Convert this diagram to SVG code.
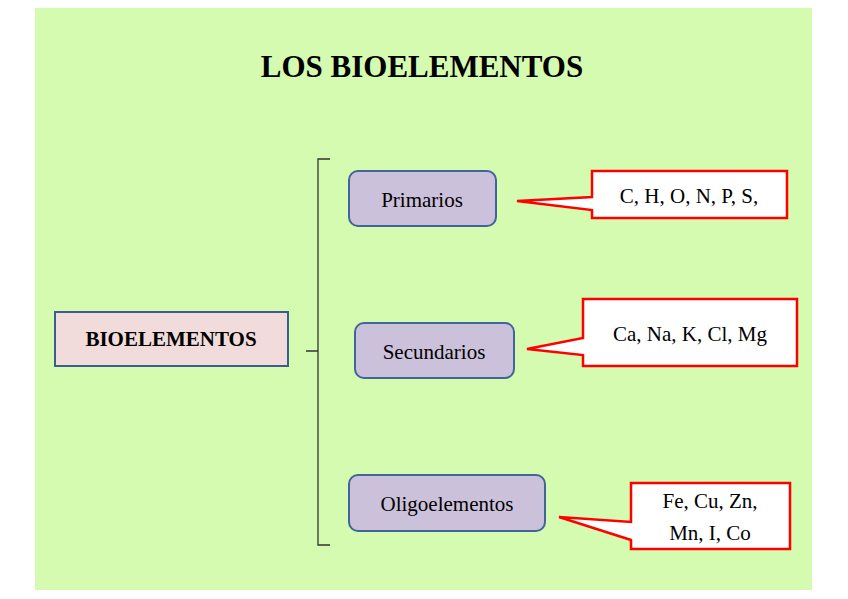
<svg xmlns="http://www.w3.org/2000/svg" width="848" height="599" viewBox="0 0 848 599">
<style>
text{font-family:"Liberation Serif","DejaVu Serif",serif;fill:#000;text-anchor:middle}
.cat{fill:#ccc1da;stroke:#41659a;stroke-width:2}
.call{fill:#fff;stroke:#ff0000;stroke-width:2.5}
.t{font-size:21px}
</style>
<rect width="848" height="599" fill="#fff"/>
<rect x="35" y="8" width="777" height="582" fill="#d4fbb0"/>
<text x="422" y="77" font-size="31" font-weight="bold">LOS BIOELEMENTOS</text>
<g id="root"><rect x="55" y="312" width="233" height="54" fill="#f2dcdb" stroke="#3a5f8f" stroke-width="2"/><text x="171" y="346" font-size="21" font-weight="bold">BIOELEMENTOS</text></g>
<g id="connectors"><path d="M330 159 H318 V545 H330 M318 351 H306" fill="none" stroke="#333" stroke-width="1.3"/></g>
<g id="primarios"><rect class="cat" x="349" y="171" width="147" height="55" rx="9"/><text class="t" x="422" y="207">Primarios</text></g>
<g id="secundarios"><rect class="cat" x="355" y="323" width="159" height="55" rx="9"/><text class="t" x="434" y="359">Secundarios</text></g>
<g id="oligo"><rect class="cat" x="349" y="475" width="196" height="56" rx="9"/><text class="t" x="447" y="511">Oligoelementos</text></g>
<g id="c1"><path class="call" d="M592 171 H787 V218 H592 V210 L517 201 L592 197 Z"/><text class="t" x="689" y="203">C, H, O, N, P, S,</text></g>
<g id="c2"><path class="call" d="M583 299 H797 V366 H583 V355 L527 349 L583 338 Z"/><text class="t" x="690" y="341">Ca, Na, K, Cl, Mg</text></g>
<g id="c3"><path class="call" d="M631 483 H790 V549 H631 V540 L559 517 L631 522 Z"/><text class="t" x="710" y="508">Fe, Cu, Zn,</text><text class="t" x="710" y="540">Mn, I, Co</text></g>
</svg>
